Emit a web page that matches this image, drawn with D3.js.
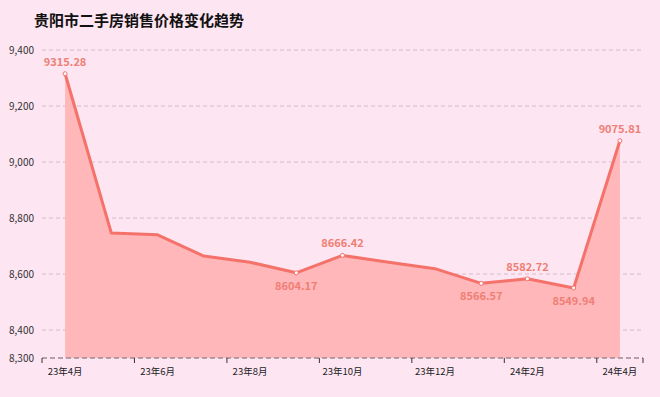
<!DOCTYPE html>
<html>
<head>
<meta charset="utf-8">
<script src="https://cdn.jsdelivr.net/npm/d3@7"></script>
<style>
  html, body { margin: 0; padding: 0; background: #fde5f2; }
  svg { display: block; font-family: "Noto Sans CJK SC", "Noto Sans", sans-serif; }
</style>
</head>
<body>
<svg id="chart" width="660" height="397"></svg>
<script>
const months = ["23年4月", "23年5月", "23年6月", "23年7月", "23年8月", "23年9月", "23年10月",
  "23年11月", "23年12月", "24年1月", "24年2月", "24年3月", "24年4月"];
const prices = [9315.28, 8746, 8740, 8664, 8642, 8604.17, 8666.42, 8642, 8619, 8566.57, 8582.72, 8549.94, 9075.81];
// which points carry a value label, and on which side
const labelled = [0, 5, 6, 9, 10, 11, 12];
const labelBelow = [5, 9, 11];
const yTicks = [8300, 8400, 8600, 8800, 9000, 9200, 9400];

const width = 660, height = 397;
const margin = { top: 50, right: 17, bottom: 39, left: 42 };

const svg = d3.select("#chart");

svg.append("text")
  .attr("x", 34).attr("y", 26)
  .attr("font-size", 15).attr("font-weight", "bold").attr("fill", "#111")
  .text("贵阳市二手房销售价格变化趋势");

const x = d3.scaleBand()
  .domain(months)
  .range([margin.left, width - margin.right]);

const y = d3.scaleLinear()
  .domain([8300, 9400])
  .range([height - margin.bottom, margin.top]);

const cx = (d, i) => x(months[i]) + x.bandwidth() / 2;

// grid
svg.append("g")
  .selectAll("line")
  .data(yTicks.filter(t => t !== 8300))
  .enter()
  .append("line")
  .attr("x1", margin.left).attr("x2", width - margin.right)
  .attr("y1", d => y(d)).attr("y2", d => y(d))
  .attr("stroke", "#d6bccb").attr("stroke-width", 1)
  .attr("stroke-dasharray", "4,3");

// y labels
svg.append("g")
  .selectAll("text")
  .data(yTicks)
  .enter()
  .append("text")
  .attr("x", 34).attr("y", d => y(d) + 4)
  .attr("text-anchor", "end")
  .attr("font-size", 10).attr("fill", "#333")
  .text(d => d3.format(",")(d));

// area + line
const area = d3.area()
  .x(cx)
  .y0(y(8300))
  .y1(d => y(d));

svg.append("path")
  .datum(prices)
  .attr("d", area)
  .attr("fill", "#ffb7ba");

const line = d3.line()
  .x(cx)
  .y(d => y(d));

svg.append("path")
  .datum(prices)
  .attr("d", line)
  .attr("fill", "none")
  .attr("stroke", "#f4726a")
  .attr("stroke-width", 3)
  .attr("stroke-linejoin", "round");

// x axis (dashed baseline + ticks at every other band edge)
svg.append("line")
  .attr("x1", margin.left).attr("x2", width - margin.right)
  .attr("y1", y(8300)).attr("y2", y(8300))
  .attr("stroke", "#9a8a94").attr("stroke-width", 1.5)
  .attr("stroke-dasharray", "5,3");

const tickEdges = months.filter((m, i) => i % 2 === 0).map(m => x(m));
tickEdges.push(width - margin.right);
svg.append("g")
  .selectAll("line")
  .data(tickEdges)
  .enter()
  .append("line")
  .attr("x1", d => d).attr("x2", d => d)
  .attr("y1", y(8300)).attr("y2", y(8300) + 5)
  .attr("stroke", "#333").attr("stroke-width", 1);

svg.append("g")
  .selectAll("text")
  .data(months.filter((m, i) => i % 2 === 0))
  .enter()
  .append("text")
  .attr("x", d => x(d) + x.bandwidth() / 2)
  .attr("y", y(8300) + 17)
  .attr("text-anchor", "middle")
  .attr("font-size", 9.5).attr("fill", "#222")
  .text(d => d);

// markers + value labels
svg.append("g")
  .selectAll("circle")
  .data(labelled)
  .enter()
  .append("circle")
  .attr("cx", i => cx(prices[i], i))
  .attr("cy", i => y(prices[i]))
  .attr("r", 2)
  .attr("fill", "#fff")
  .attr("stroke", "#f4726a")
  .attr("stroke-width", 1);

svg.append("g")
  .selectAll("text")
  .data(labelled)
  .enter()
  .append("text")
  .attr("x", i => cx(prices[i], i))
  .attr("y", i => labelBelow.includes(i) ? y(prices[i]) + 17 : y(prices[i]) - 8)
  .attr("text-anchor", "middle")
  .attr("font-size", 11).attr("font-weight", "bold")
  .attr("fill", "#ef7f74")
  .text(i => prices[i].toFixed(2));
</script>
</body>
</html>
